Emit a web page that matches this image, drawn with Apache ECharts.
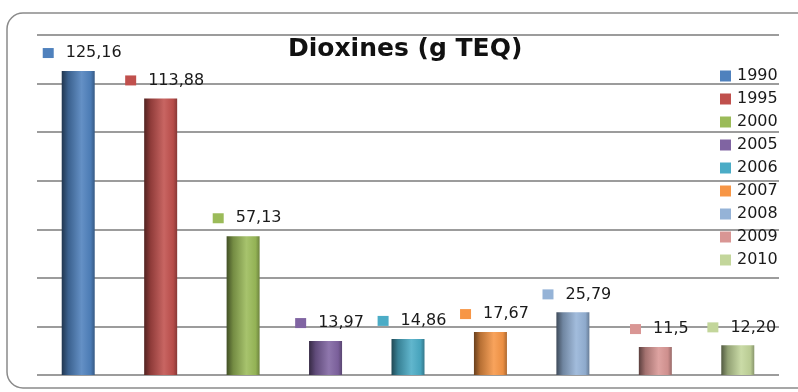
<!DOCTYPE html>
<html>
<head>
<meta charset="utf-8">
<script src="https://cdn.jsdelivr.net/npm/echarts@6/dist/echarts.min.js"></script>
<style>
  html, body { margin: 0; padding: 0; background: #fff; }
  #chart { width: 798px; height: 392px; }
</style>
</head>
<body>
<div id="chart"></div>
<script>
// Emissions of dioxins per year (g TEQ)
const years = ['1990', '1995', '2000', '2005', '2006', '2007', '2008', '2009', '2010'];
const values = [125.16, 113.88, 57.13, 13.97, 14.86, 17.67, 25.79, 11.5, 12.20];
const valueLabels = ['125,16', '113,88', '57,13', '13,97', '14,86', '17,67', '25,79', '11,5', '12,20'];
const colors = ['#4F81BD', '#C0504D', '#9BBB59', '#8064A2', '#4BACC6', '#F79646', '#95B3D7', '#D99694', '#C3D69B'];

const FONT = 'DejaVu Sans';

function shade(hex, f) {
  const n = parseInt(hex.slice(1), 16);
  let r = (n >> 16) & 255, g = (n >> 8) & 255, b = n & 255;
  if (f < 1) { r *= f; g *= f; b *= f; }
  else { const t = f - 1; r += (255 - r) * t; g += (255 - g) * t; b += (255 - b) * t; }
  return 'rgb(' + Math.round(r) + ',' + Math.round(g) + ',' + Math.round(b) + ')';
}

// horizontal shading that gives each bar a rounded, cylinder-like look
function cylinder(c) {
  return new echarts.graphic.LinearGradient(0, 0, 1, 0, [
    { offset: 0, color: shade(c, 0.42) },
    { offset: 0.2, color: shade(c, 0.75) },
    { offset: 0.6, color: shade(c, 1.12) },
    { offset: 0.88, color: shade(c, 0.95) },
    { offset: 1, color: shade(c, 0.7) }
  ]);
}

const series = years.map((y, i) => ({
  name: y,
  type: 'bar',
  barWidth: 33,
  barGap: '-100%',
  data: years.map((_, j) => (j === i ? values[i] : '-')),
  itemStyle: { color: cylinder(colors[i]) },
  label: {
    show: true,
    position: 'top',
    distance: 10,
    offset: [4, 0],
    formatter: () => '{sq|}{v|' + valueLabels[i] + '}',
    rich: {
      sq: { width: 11, height: 10, backgroundColor: colors[i] },
      v: { fontFamily: FONT, fontSize: 16, color: '#1a1a1a', padding: [0, 0, 0, 12] }
    }
  }
}));

const chart = echarts.init(document.getElementById('chart'));
chart.setOption({
  animation: false,
  color: colors,
  title: {
    text: 'Dioxines (g TEQ)',
    left: 283,
    top: 32,
    textStyle: { fontFamily: FONT, fontSize: 25, fontWeight: 'bold', color: '#111' }
  },
  legend: {
    orient: 'vertical',
    left: 715,
    top: 63,
    itemWidth: 11,
    itemHeight: 11,
    itemGap: 7,
    icon: 'rect',
    textStyle: { fontFamily: FONT, fontSize: 16, color: '#1a1a1a', padding: [0, 0, 0, 1] },
    data: years.map((y, i) => ({ name: y, itemStyle: { color: colors[i] } }))
  },
  grid: { left: 37, right: 19, top: 35, bottom: 17, containLabel: false },
  xAxis: {
    type: 'category',
    data: years,
    axisLine: { show: false },
    axisTick: { show: false },
    axisLabel: { show: false }
  },
  yAxis: {
    type: 'value',
    min: 0,
    max: 140,
    interval: 20,
    axisLine: { show: false },
    axisTick: { show: false },
    axisLabel: { show: false },
    splitLine: { lineStyle: { color: '#9c9c9c', width: 2 } }
  },
  graphic: [{
    type: 'rect',
    shape: { x: 7, y: 13, width: 805, height: 375, r: 16 },
    style: { fill: 'none', stroke: '#8a8a8a', lineWidth: 1.5 },
    silent: true,
    z: -1
  }],
  series: series
});
</script>
</body>
</html>
